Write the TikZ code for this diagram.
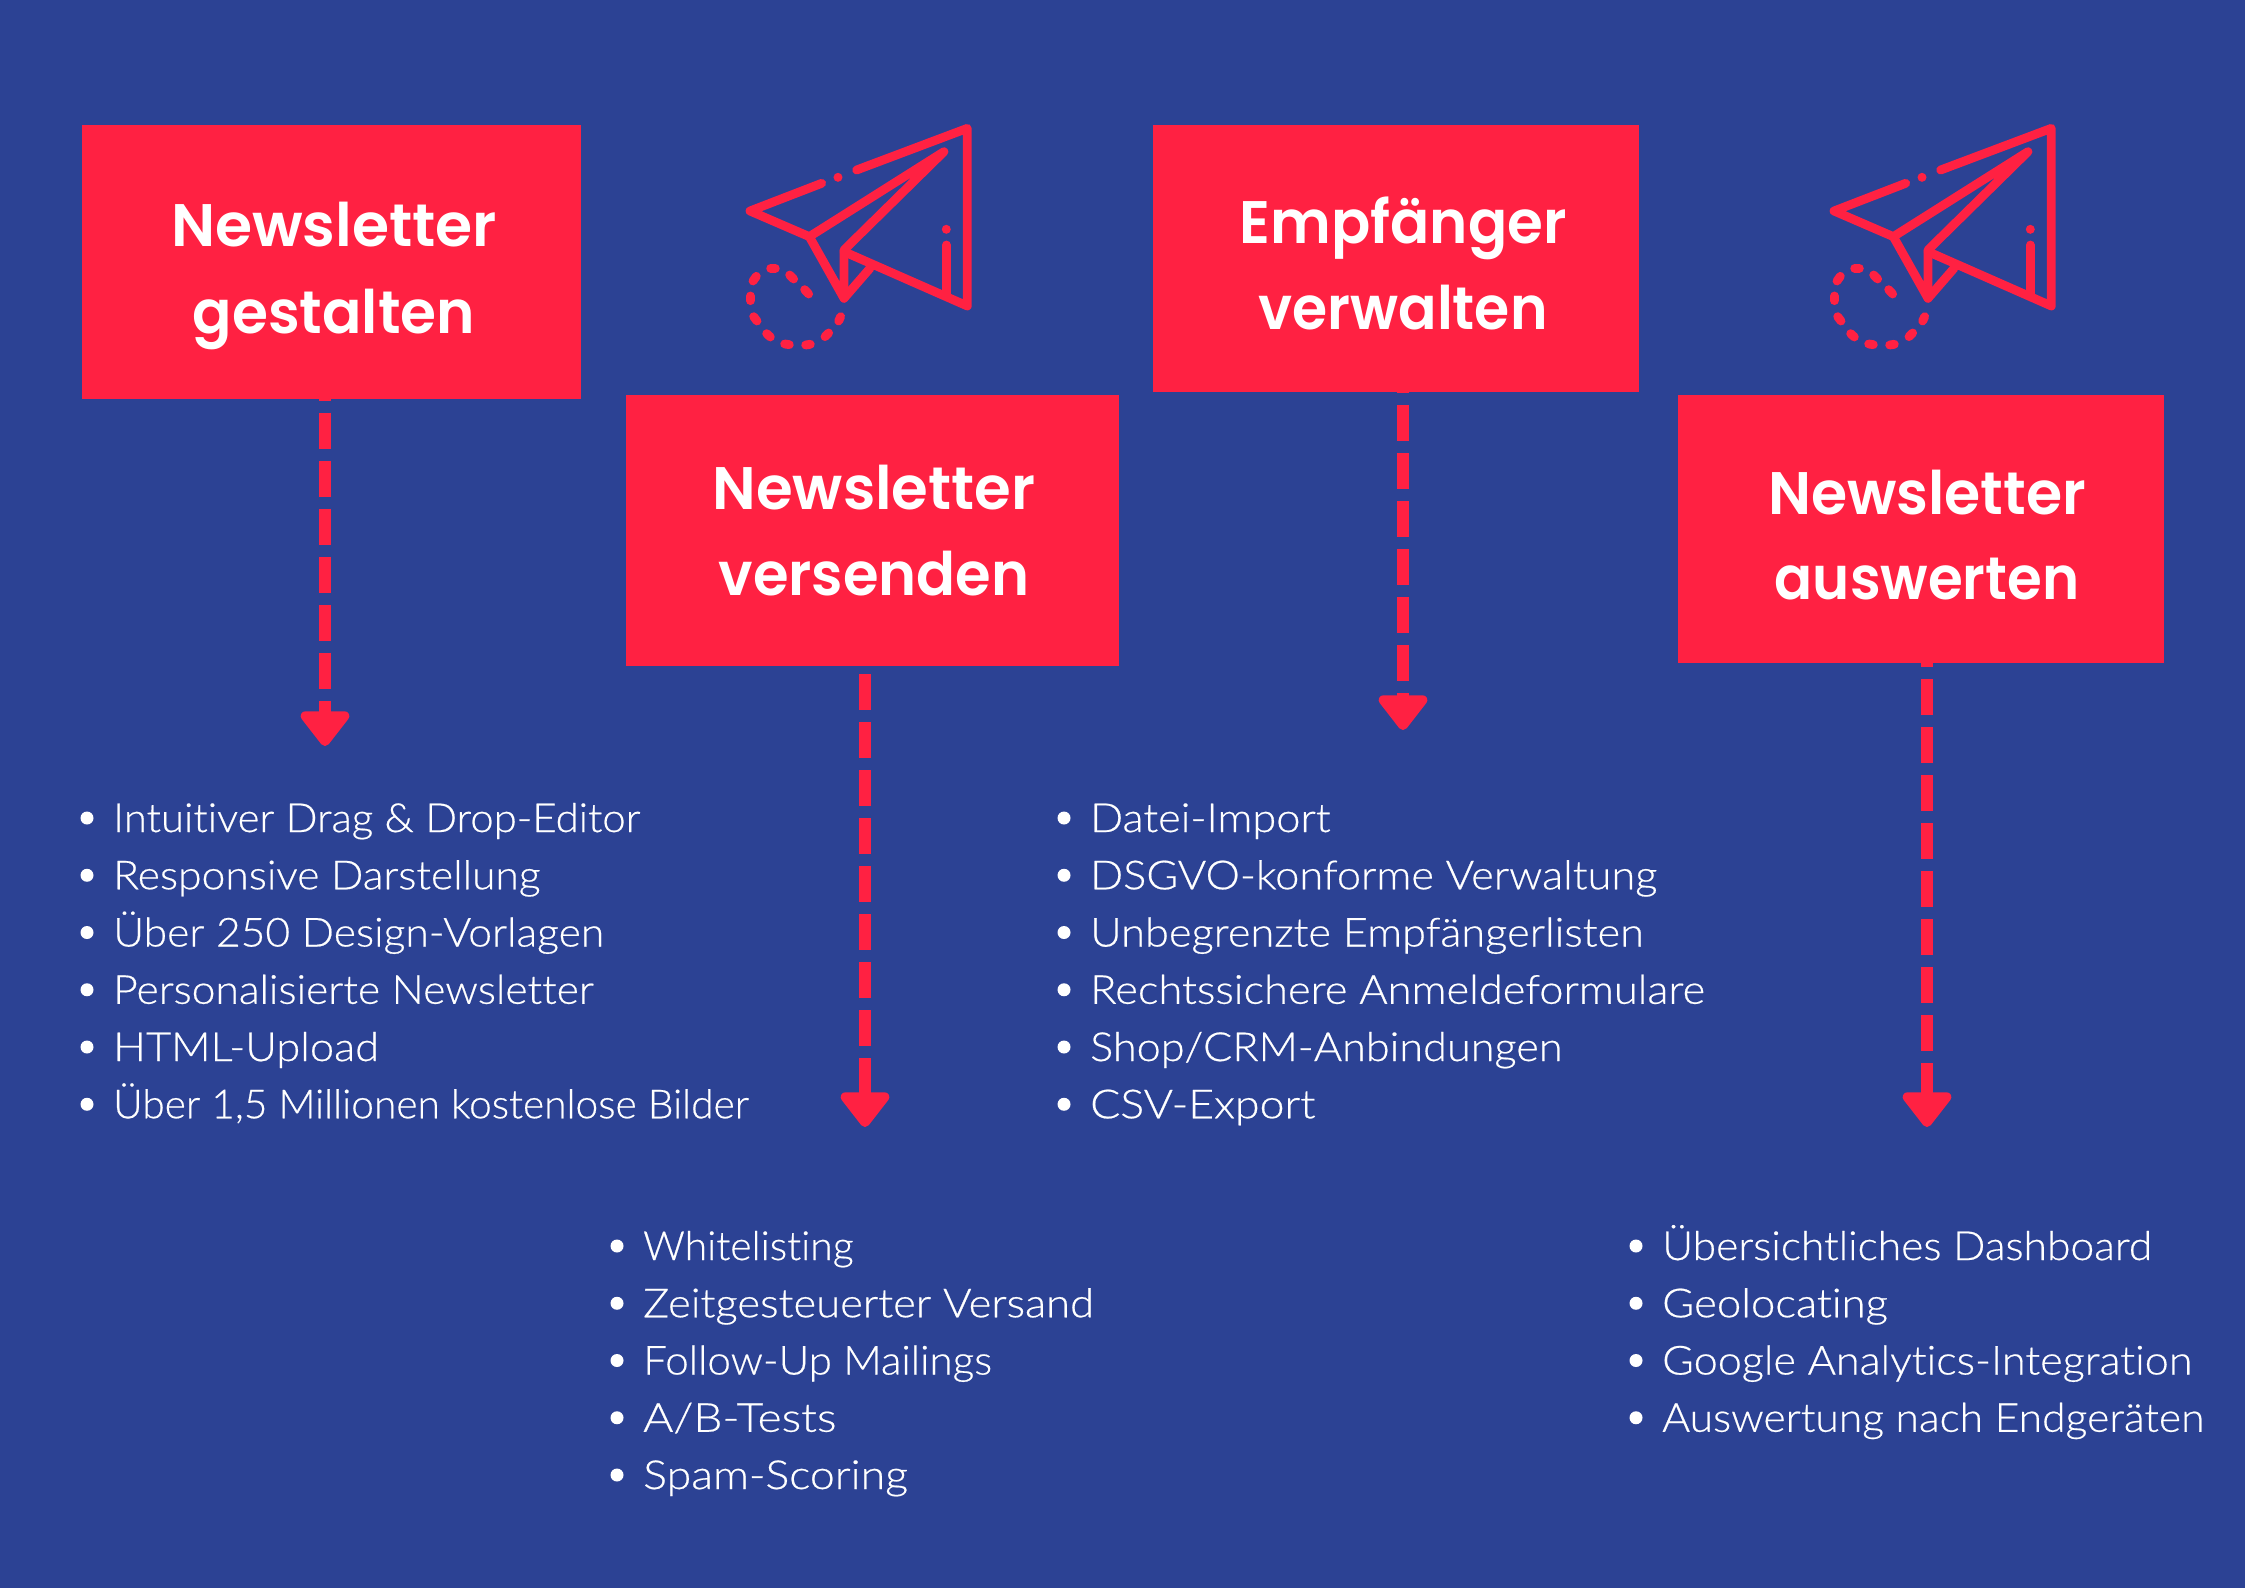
\documentclass[tikz,border=0pt]{standalone}
\usepackage{fontspec}
\usepackage{graphicx}
\usetikzlibrary{arrows.meta}
\newfontfamily\headfont{Poppins SemiBold}
\newfontfamily\listfont[FakeStretch=1.065,FakeBold=0.5,Ligatures=NoCommon]{Lato Light}
\definecolor{bgblue}{HTML}{2C4294}
\definecolor{hotred}{HTML}{FF2142}
\newcommand{\sx}[2]{\scalebox{#1}[1]{#2}}
\tikzset{
  redbox/.style={fill=hotred,draw=none,inner sep=0pt,outer sep=0pt},
  headtext/.style={text=white,font=\headfont\fontsize{60}{60}\selectfont,anchor=base,inner sep=0pt},
  itemtext/.style={text=white,font=\listfont\fontsize{40}{40}\selectfont,anchor=base west,inner sep=0pt},
  bulletdot/.style={circle,fill=white,draw=none,minimum size=13pt,inner sep=0pt},
  conn/.style={draw=hotred,line width=12pt,dash pattern=on 36pt off 12pt,dash phase=#1,
    -{Triangle[length=38pt,width=56pt,round,line width=10pt]}},
  planeline/.style={draw=hotred,line width=8.8pt,line cap=round,line join=round},
}
\newcommand{\planeicon}[2]{%
  \begin{scope}[shift={(#1,#2)},x=0.3333pt,y=-0.3333pt]
    \draw[planeline] (305,250) -- (90,333) -- (268,410) -- (672,155) -- (372,450) -- (372,595) -- (268,410);
    \draw[planeline] (372,595) -- (450,505);
    \draw[planeline] (372,455) -- (742,618) -- (742,85) -- (410,210);
    \draw[planeline] (679,435) -- (679,580);
    \fill[hotred] (354,232) circle (13.5);
    \fill[hotred] (679,388) circle (13.5);
    \foreach \a/\b/\c/\d in {152/505/166/505,209/525/221/537,254/569/266/582,362/650/356/663,326/699/315/710,271/733/257/735,208/734/194/732,151/711/140/701,111/663/101/650,91/602/91/588,99/543/109/529}
      \draw[planeline] (\a,\b) -- (\c,\d);
  \end{scope}}
\newcommand{\itemlist}[4]{%
  \foreach \t [count=\i from 0] in {#4} {
    \node[bulletdot] (dot#1\i) at (#2,{#3+57.25*\i-14}) {};
    \node[itemtext] (item#1\i) at ({#2+26},{#3+57.25*\i}) {\t};
  }}
\begin{document}
\begin{tikzpicture}[x=1pt,y=-1pt]
\useasboundingbox (0,0) rectangle (2245,1587);
\fill[bgblue] (-5,-5) rectangle (2250,1592);
% boxes
\node[redbox,minimum width=499pt,minimum height=274pt] (b1) at (331.5,262) {};
\node[redbox,minimum width=493pt,minimum height=271pt] (b2) at (872.5,530.5) {};
\node[redbox,minimum width=486pt,minimum height=267pt] (b3) at (1396,258.5) {};
\node[redbox,minimum width=486pt,minimum height=268pt] (b4) at (1921,529) {};
% headings
\node[headtext] (h1a) at (334,246) {Newsletter};
\node[headtext] (h1b) at (334,333) {\sx{0.97}{gestalten}};
\node[headtext] (h2a) at (874,509) {\sx{0.99}{Newsletter}};
\node[headtext] (h2b) at (874,595) {\sx{0.96}{versenden}};
\node[headtext] (h3a) at (1403,243) {\sx{0.966}{Empfänger}};
\node[headtext] (h3b) at (1403,329) {\sx{0.948}{verwalten}};
\node[headtext] (h4a) at (1927,514) {\sx{0.975}{Newsletter}};
\node[headtext] (h4b) at (1927,599) {\sx{0.938}{auswerten}};
% connectors
\coordinate (a1) at (325,746);
\coordinate (a2) at (865,1127);
\coordinate (a3) at (1403,730);
\coordinate (a4) at (1927,1127);
\draw[conn=34.3pt] (b1.south -| a1) -- (a1);
\draw[conn=40pt] (b2.south -| a2) -- (a2);
\draw[conn=35pt] (b3.south -| a3) -- (a3);
\draw[conn=31.7pt] (b4.south -| a4) -- (a4);
% icons
\planeicon{720}{100}
\planeicon{1804}{100}
% lists
\itemlist{a}{87}{832}{\sx{0.984}{Intuitiver Drag \& Drop-Editor},Responsive Darstellung,Über 250 Design-Vorlagen,Personalisierte Newsletter,\sx{1.02}{HTML-Upload},{\sx{0.955}{Über 1,5 Millionen kostenlose Bilder}}}
\itemlist{b}{617}{1260}{\sx{0.96}{Whitelisting},\sx{1.022}{Zeitgesteuerter Versand},\sx{0.99}{Follow-Up Mailings},\sx{1.08}{A/B-Tests},\sx{1.05}{Spam-Scoring}}
\itemlist{c}{1064}{832}{\sx{1.018}{Datei-Import},\sx{1.018}{DSGVO-konforme Verwaltung},\sx{1.018}{Unbegrenzte Empfängerlisten},\sx{1.02}{Rechtssichere Anmeldeformulare},\sx{1.015}{Shop/CRM-Anbindungen},\sx{1.047}{CSV-Export}}
\itemlist{d}{1636}{1260}{Übersichtliches Dashboard,\sx{1.026}{Geolocating},\sx{1.014}{Google Analytics-Integration},Auswertung nach Endgeräten}
\end{tikzpicture}
\end{document}
